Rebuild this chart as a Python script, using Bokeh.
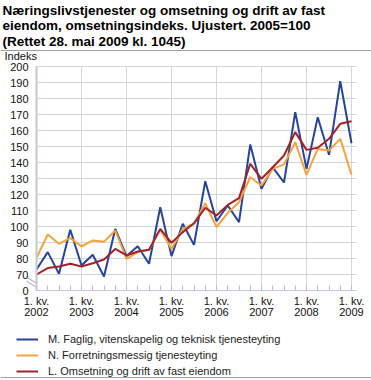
from bokeh.plotting import figure
from bokeh.models import FixedTicker, Legend, LegendItem, Label, Span
from bokeh.embed import file_html
from bokeh.resources import INLINE

# ---------------- data ----------------
years = [str(y) for y in range(2002, 2010)]
tick_labels = ["1. kv.\n" + y for y in years]
quarter_index = list(range(29))  # 1. kv. 2002 ... 1. kv. 2009
year_ticks = quarter_index[::4]

m_faglig = [73.1, 84.0, 70.4, 98.0, 75.6, 82.3, 68.8, 98.5, 81.5, 87.7,
            76.7, 112.0, 81.5, 101.7, 88.5, 128.3, 103.3, 113.1, 102.7, 151.3,
            123.5, 137.0, 127.5, 171.5, 136.0, 168.3, 144.8, 190.8, 152.0]
n_forretning = [80.4, 95.0, 89.2, 92.9, 87.5, 91.3, 90.4, 97.5, 79.8, 84.0,
                85.4, 98.0, 86.0, 98.5, 101.7, 114.6, 99.6, 108.5, 115.2, 130.8,
                125.6, 136.0, 138.8, 152.7, 132.3, 148.5, 147.5, 154.8, 132.3]
l_omsetning = [70.0, 74.0, 75.0, 76.7, 75.0, 77.0, 79.4, 86.0, 81.9, 84.4,
               85.4, 98.5, 89.8, 96.5, 102.0, 111.7, 106.9, 113.5, 117.7, 139.2,
               129.8, 137.0, 144.4, 159.0, 147.9, 149.2, 154.8, 164.2, 165.8]

series_labels = ["M. Faglig, vitenskapelig og teknisk tjenesteyting",
                 "N. Forretningsmessig tjenesteyting",
                 "L. Omsetning og drift av fast eiendom"]
series_colors = ["#27449b", "#f7a23c", "#a3222a"]

y_ticks = list(range(60, 201, 10))
y_tick_labels = {v: str(v) for v in y_ticks}
y_tick_labels[60] = "0"

title_lines = ["Næringslivstjenester og omsetning og drift av fast",
               "eiendom, omsetningsindeks. Ujustert. 2005=100",
               "(Rettet 28. mai 2009 kl. 1045)"]
y_unit = "Indeks"

FONT = "Liberation Sans"
GRID = "#d4d6de"
AXIS = "#c4c8d4"

# ---------------- geometry ----------------
# The plotting frame fills the whole canvas; the data area is
# x 36..356 px (11.25 px per quarter), y 66..290 px (1.6 px per index point).
W, H = 371, 380
PX_Q = 11.25
PX_V = 1.6
LEFT_PX, BASE_PX = 36, 290
X0 = -LEFT_PX / PX_Q
X1 = (W - LEFT_PX) / PX_Q
XR = (356 - LEFT_PX) / PX_Q          # right edge of the data area
Y0 = y_ticks[0] - (H - BASE_PX) / PX_V
Y1 = y_ticks[0] + BASE_PX / PX_V


def px(xp, yp):
    """pixel position on the canvas (from top-left) -> data coordinates"""
    return X0 + xp / PX_Q, Y1 - yp / PX_V


p = figure(width=W, height=H, x_range=(X0, X1), y_range=(Y0, Y1),
           output_backend="svg", toolbar_location=None,
           min_border=0, min_border_left=0, min_border_right=0,
           min_border_top=0, min_border_bottom=0)
p.outline_line_color = None
p.background_fill_color = "white"
p.border_fill_color = "white"
p.xgrid.visible = False
p.ygrid.visible = False

# grid lines, drawn from the tick lists
p.segment(x0=[0] * len(y_ticks), x1=[XR] * len(y_ticks), y0=y_ticks, y1=y_ticks,
          line_color=GRID, line_width=1)
p.segment(x0=year_ticks, x1=year_ticks, y0=[y_ticks[0]] * len(year_ticks),
          y1=[y_ticks[-1]] * len(year_ticks), line_color=GRID, line_width=1)

# x axis
xa = p.xaxis[0]
xa.fixed_location = y_ticks[0]
xa.bounds = (0, XR)
xa.ticker = FixedTicker(ticks=year_ticks, minor_ticks=quarter_index)
xa.major_label_overrides = {t: lab for t, lab in zip(year_ticks, tick_labels)}
xa.major_label_text_font = FONT
xa.major_label_text_font_size = "11px"
xa.major_label_text_color = "#111111"
xa.major_label_text_line_height = 0.95
xa.major_label_standoff = 4
xa.axis_line_color = AXIS
xa.major_tick_in = 5
xa.major_tick_out = 0
xa.minor_tick_in = 5
xa.minor_tick_out = 0
xa.major_tick_line_color = "#b8bcc8"
xa.minor_tick_line_color = "#b8bcc8"

# y axis
ya = p.yaxis[0]
ya.fixed_location = 0
ya.bounds = (y_ticks[0], y_ticks[-1])
ya.ticker = FixedTicker(ticks=y_ticks)
ya.major_label_overrides = y_tick_labels
ya.major_label_text_font = FONT
ya.major_label_text_font_size = "11px"
ya.major_label_text_color = "#111111"
ya.major_label_standoff = 8
ya.axis_line_color = AXIS
ya.axis_line_width = 2
ya.major_tick_in = 0
ya.major_tick_out = 0
ya.minor_tick_line_color = None

# axis break mark (two short diagonal strokes across the value axis)
b1 = px(26, 276.5)
b2 = px(35.5, 282.5)
b3 = px(26, 280.5)
b4 = px(35.5, 286.5)
p.segment(x0=[b1[0], b3[0]], y0=[b1[1], b3[1]], x1=[b2[0], b4[0]], y1=[b2[1], b4[1]],
          line_color="#b4b8c8", line_width=1.3)

# series
renderers = []
for vals, col in zip([m_faglig, n_forretning, l_omsetning], series_colors):
    r = p.line(quarter_index, vals, line_color=col, line_width=2)
    renderers.append(r)

legend = Legend(items=[LegendItem(label=lab, renderers=[r])
                       for lab, r in zip(series_labels, renderers)],
                location=(16, 1), orientation="vertical",
                margin=0, padding=0, spacing=0,
                glyph_width=22, glyph_height=16, label_height=16,
                label_standoff=10,
                label_text_font=FONT, label_text_font_size="11px",
                label_text_color="#222222",
                border_line_color=None, background_fill_alpha=0)
p.add_layout(legend, "center")

# title lines
for t, yp in zip(title_lines, [9.5, 25, 40.5]):
    x, y = px(2, yp)
    p.add_layout(Label(x=x, y=y, text=t, text_font=FONT, text_font_size="13.5px",
                       text_font_style="bold", text_color="#000000",
                       text_align="left", text_baseline="middle"))

x, y = px(4, 55.5)
p.add_layout(Label(x=x, y=y, text=y_unit, text_font=FONT, text_font_size="11px",
                   text_color="#111111", text_align="left", text_baseline="middle"))

# separator rules
for yp in (50, 377):
    p.add_layout(Span(location=px(0, yp)[1], dimension="width",
                      line_color="#a0a0a0", line_width=1))

open("out.html", "w").write(file_html(p, INLINE))
